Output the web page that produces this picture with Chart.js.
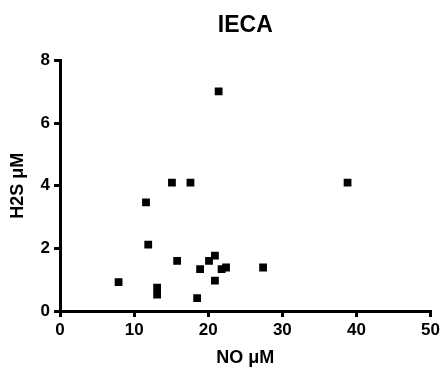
<!DOCTYPE html>
<html><head><meta charset="utf-8">
<script src="https://cdn.jsdelivr.net/npm/chart.js@4/dist/chart.umd.min.js"></script>
<style>html,body{margin:0;padding:0;background:#fff}#w{width:443px;height:369px}</style>
</head><body><div id="w"><canvas id="c"></canvas></div>
<script>
const noValues = [21.4, 15.1, 17.6, 38.8, 11.6, 11.9, 15.8, 20.1, 20.9, 18.9, 21.8, 22.4, 27.4, 20.9, 7.9, 13.1, 13.1, 18.5];
const h2sValues = [7.02, 4.10, 4.10, 4.10, 3.47, 2.12, 1.60, 1.60, 1.77, 1.34, 1.34, 1.39, 1.39, 0.97, 0.92, 0.75, 0.52, 0.41];
const xTicks = [0, 10, 20, 30, 40, 50];
const yTicks = [0, 2, 4, 6, 8];
const font = 'Arial, "Liberation Sans", Helvetica, sans-serif';
const pts = noValues.map((x, i) => ({x, y: h2sValues[i]}));
const centerTitle = {
  id: 'centerTitle',
  afterLayout(chart) {
    const t = chart.titleBlock;
    if (t) { t.left = chart.chartArea.left; t.right = chart.chartArea.right; }
  }
};
new Chart(document.getElementById('c'), {
  type: 'scatter',
  data: {datasets: [{data: pts, pointStyle: 'rect', pointRadius: 5.5, pointHoverRadius: 5.5,
    backgroundColor: '#000', borderColor: '#000', borderWidth: 0}]},
  options: {
    responsive: true, maintainAspectRatio: false, animation: false, devicePixelRatio: 1,
    layout: {padding: {left: 7, right: 6, top: 0, bottom: 0}},
    plugins: {
      legend: {display: false}, tooltip: {enabled: false},
      title: {display: true, text: 'IECA', color: '#000', font: {family: font, size: 23, weight: 'bold'}, padding: {top: 12, bottom: 21}}
    },
    scales: {
      x: {type: 'linear', min: 0, max: 50,
        afterBuildTicks: s => { s.ticks = xTicks.map(v => ({value: v})); },
        grid: {drawOnChartArea: false, drawTicks: true, tickLength: 6, color: '#000', lineWidth: 3},
        border: {color: '#000', width: 3},
        ticks: {color: '#000', font: {family: font, size: 17, weight: 'bold'}, padding: 3, maxRotation: 0},
        title: {display: true, text: 'NO μM', color: '#000', font: {family: font, size: 18, weight: 'bold'}, padding: {top: 4, bottom: 0}}
      },
      y: {type: 'linear', min: 0, max: 8,
        afterBuildTicks: s => { s.ticks = yTicks.map(v => ({value: v})); },
        grid: {drawOnChartArea: false, drawTicks: true, tickLength: 6, color: '#000', lineWidth: 3},
        border: {color: '#000', width: 3},
        ticks: {color: '#000', font: {family: font, size: 17, weight: 'bold'}, padding: 4},
        title: {display: true, text: 'H2S μM', color: '#000', font: {family: font, size: 18, weight: 'bold'}, padding: {top: 0, bottom: 8}}
      }
    }
  },
  plugins: [centerTitle]
});
</script></body></html>
